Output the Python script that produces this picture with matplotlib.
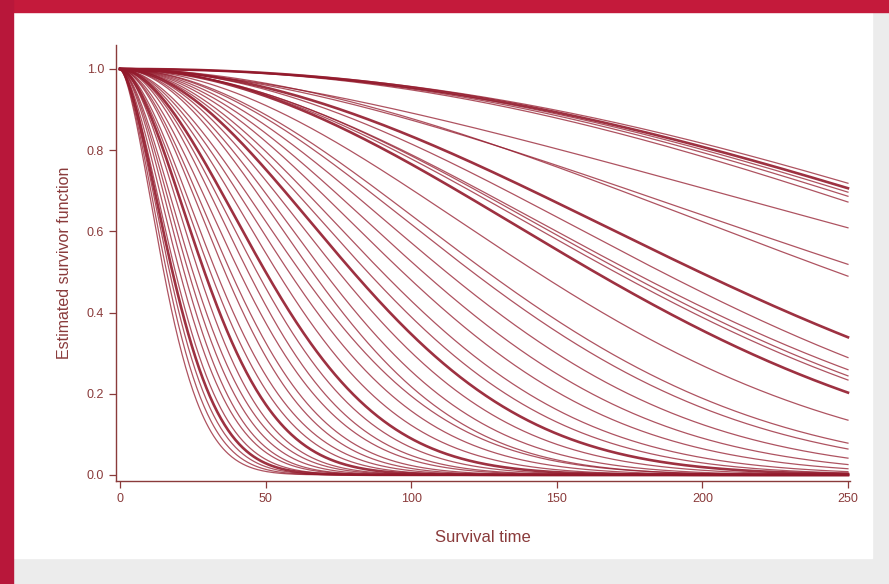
import numpy as np
import matplotlib.pyplot as plt
from matplotlib.patches import Rectangle

# median survival time (time where S = 0.5) and Weibull shape of each fitted curve
median_time = [15, 16, 17, 18, 19, 20.5, 22, 23.5, 25, 27, 29, 31, 33, 36, 38, 41, 44,
               47, 50, 54, 58, 62, 66, 70, 75, 80, 85, 90, 97, 104, 112, 121, 126,
               143, 163, 170, 173, 176, 186, 199, 246, 258, 308,
               322, 330, 336, 342, 350]
shape = [1.6, 1.6, 1.6, 1.6, 1.6, 1.6, 1.65, 1.65, 1.65, 1.7, 1.7, 1.7, 1.7, 1.75, 1.75, 1.75, 1.8,
         1.8, 1.8, 1.8, 1.8, 1.8, 1.9, 1.9, 1.9, 1.9, 1.9, 1.9, 1.9, 1.9, 1.9, 1.9, 1.9,
         1.9, 1.95, 1.92, 1.93, 1.9, 1.97, 1.95, 1.86, 1.73, 1.6,
         2.2, 2.2, 2.2, 2.2, 2.2]
thick = [3, 10, 18, 25, 34, 39, 46]

time_grid = np.linspace(0, 250, 600)
line_col = '#931a2c'
text_col = '#8a3b3b'

fig = plt.figure(figsize=(8.89, 5.84), dpi=100)
fig.patch.set_facecolor('#ececec')

# slide frame: white panel with a crimson band on the top and left
fig.add_artist(Rectangle((14 / 889, 1 - 558 / 584), (872 - 14) / 889, (558 - 12) / 584,
                         transform=fig.transFigure, color='white', zorder=-3))
fig.add_artist(Rectangle((0, 1 - 12 / 584), 1, 12 / 584,
                         transform=fig.transFigure, color='#c41a3b', zorder=-2))
fig.add_artist(Rectangle((0, 0), 13 / 889, 1,
                         transform=fig.transFigure, color='#b8173a', zorder=-2))

ax = fig.add_axes([116 / 889, 1 - 481 / 584, (850 - 116) / 889, (481 - 45) / 584])
ax.set_facecolor('none')

for i, (m, k) in enumerate(zip(median_time, shape)):
    scale = m / np.log(2) ** (1 / k)
    surv = np.exp(-(time_grid / scale) ** k)
    lw = 1.9 if i in thick else 0.9
    ax.plot(time_grid, surv, color=line_col, lw=lw, alpha=0.9 if i in thick else 0.75)

ax.set_xlim(-1.4, 250.7)
ax.set_ylim(-0.015, 1.059)
ax.set_xticks([0, 50, 100, 150, 200, 250])
ax.set_yticks([0.0, 0.2, 0.4, 0.6, 0.8, 1.0])
ax.set_yticklabels(['0.0', '0.2', '0.4', '0.6', '0.8', '1.0'])

for side in ['top', 'right']:
    ax.spines[side].set_visible(False)
for side in ['left', 'bottom']:
    ax.spines[side].set_color(text_col)
    ax.spines[side].set_linewidth(1.0)
ax.tick_params(colors=text_col, labelsize=9, length=5, width=0.9, direction='out')
for lab in ax.get_xticklabels() + ax.get_yticklabels():
    lab.set_family('Liberation Sans')

ax.set_xlabel('Survival time', color=text_col, fontsize=12, family='Liberation Sans', labelpad=18)
ax.set_ylabel('Estimated survivor function', color=text_col, fontsize=11.5, family='Liberation Sans', labelpad=11)

fig.savefig('out.png', dpi=100, facecolor=fig.get_facecolor())
